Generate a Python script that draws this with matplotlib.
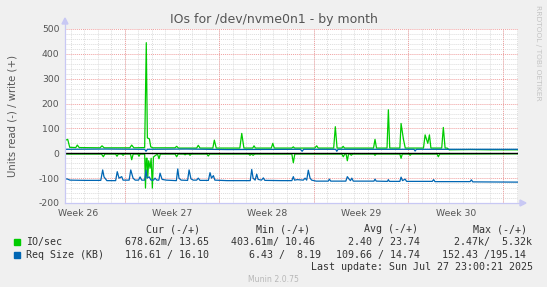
import numpy as np
import matplotlib
matplotlib.use("Agg")
import matplotlib.pyplot as plt
from matplotlib.patches import Rectangle, Polygon

W, H = 547, 287

# (day from left edge of graph, value)
io_write_pts = [(0.0, 52), (0.2, 56), (0.35, 24), (0.8, 23), (0.91, 33), (1.05, 23),
                (2.6, 22), (2.74, 30), (2.9, 22), (4.8, 22), (4.94, 33), (5.1, 22),
                (5.9, 23), (6.02, 445), (6.1, 62), (6.25, 58), (6.35, 26), (6.5, 22),
                (8.15, 22), (8.27, 28), (8.4, 21), (9.75, 21), (9.87, 32), (10.0, 21),
                (10.95, 21), (11.06, 53), (11.2, 21), (12.95, 21), (13.09, 80), (13.25, 21),
                (13.9, 21), (14.0, 30), (14.1, 21), (15.28, 21), (15.39, 40), (15.5, 21),
                (16.8, 21), (16.91, 26), (17.0, 21), (18.5, 21), (18.64, 30), (18.75, 21),
                (19.9, 21), (20.02, 107), (20.15, 21), (20.5, 21), (20.6, 28), (20.7, 21),
                (22.85, 21), (22.96, 56), (23.07, 21), (23.85, 21), (23.95, 175), (24.05, 21),
                (24.8, 21), (24.89, 120), (25.06, 58), (25.2, 21), (26.55, 21), (26.67, 74),
                (26.87, 40), (26.99, 74), (27.1, 21), (27.9, 21), (28.02, 104), (28.15, 21),
                (28.3, 21), (28.45, 14), (30.0, 15), (31.5, 14), (33.55, 14)]

io_read_pts = [(0.0, -3), (2.7, -3), (2.84, -14), (2.95, -3), (3.75, -3), (3.85, -12), (3.95, -3),
               (4.2, -3), (4.3, -8), (4.4, -3), (4.85, -3), (4.94, -26), (5.05, -3),
               (5.4, -3), (5.48, -12), (5.56, -3), (5.9, -3), (5.96, -140), (6.02, -20),
               (6.08, -20), (6.13, -95), (6.2, -30), (6.3, -60), (6.38, -20), (6.47, -140),
               (6.55, -15), (6.67, -10), (6.85, -3), (6.96, -22), (7.06, -3), (8.15, -3),
               (8.27, -14), (8.38, -3), (8.8, -3), (8.89, -6), (9.0, -3), (9.18, -3),
               (9.26, -8), (9.35, -3), (10.5, -3), (10.61, -11), (10.72, -3), (13.6, -3),
               (13.7, -8), (13.8, -3), (13.93, -8), (14.05, -3), (16.8, -3), (16.91, -38),
               (17.02, -3), (20.5, -3), (20.61, -14), (20.72, -3), (20.82, -3), (20.91, -30),
               (21.0, -3), (21.12, -3), (21.2, -8), (21.3, -3), (22.88, -3), (22.96, -8),
               (23.05, -3), (24.8, -3), (24.89, -20), (24.98, -3), (25.48, -3), (25.56, -8),
               (25.65, -3), (27.55, -3), (27.65, -14), (27.75, -3), (33.55, -2)]

req_write_pts = [(0.0, 16), (3.0, 17), (5.9, 16), (6.0, 8), (6.1, 16), (9.0, 17), (12.0, 15),
                 (17.45, 16), (17.56, 8), (17.67, 16), (20.05, 16), (20.13, 8), (20.22, 16),
                 (25.85, 16), (25.93, 9), (26.02, 16), (33.55, 16)]

req_read_pts = [(0.0, -104), (0.15, -103), (0.37, -108), (1.5, -109), (2.65, -109), (2.79, -67),
                (2.89, -95), (2.96, -100), (3.1, -110), (3.75, -110), (3.87, -74), (4.0, -100),
                (4.2, -94), (4.3, -108), (4.75, -108), (4.87, -67), (5.04, -100), (5.2, -108),
                (5.45, -108), (5.56, -95), (5.68, -108), (5.9, -108), (6.0, -67), (6.07, -100),
                (6.24, -95), (6.37, -108), (6.55, -108), (6.67, -100), (6.8, -108), (6.95, -108),
                (7.04, -80), (7.19, -105), (7.5, -108), (8.25, -110), (8.35, -63), (8.44, -100),
                (8.6, -108), (9.08, -109), (9.19, -67), (9.33, -103), (9.5, -108), (9.75, -108),
                (9.87, -100), (10.0, -109), (10.62, -109), (10.74, -78), (10.85, -100),
                (10.99, -90), (11.1, -108), (12.0, -110), (13.72, -110), (13.83, -65),
                (13.93, -100), (14.08, -108), (14.2, -84), (14.3, -105), (14.55, -108),
                (14.69, -99), (14.8, -109), (16.0, -110), (16.8, -110), (16.91, -94),
                (17.0, -108), (17.2, -106), (17.65, -108), (17.78, -100), (17.9, -108),
                (18.02, -68), (18.15, -100), (18.27, -108), (18.6, -112), (19.5, -112),
                (19.58, -104), (19.68, -112), (20.8, -112), (20.91, -94), (21.04, -104),
                (21.14, -110), (21.24, -100), (21.35, -112), (22.88, -112), (22.96, -104),
                (23.05, -112), (23.88, -113), (23.95, -106), (24.02, -113), (24.8, -113),
                (24.89, -96), (25.0, -110), (25.19, -104), (25.3, -113), (27.2, -113),
                (27.3, -106), (27.4, -114), (30.0, -114), (30.1, -107), (30.2, -115),
                (33.55, -116)]

week_labels = ["Week 26", "Week 27", "Week 28", "Week 29", "Week 30"]
week_starts = [4.44, 11.44, 18.44, 25.44, 32.44]
x_end = 33.55
y_ticks = [-200, -100, 0, 100, 200, 300, 400, 500]

legend_head = ["Cur (-/+)", "Min (-/+)", "Avg (-/+)", "Max (-/+)"]
io_row = ["678.62m/ 13.65", "403.61m/ 10.46", "2.40 / 23.74", "2.47k/  5.32k"]
req_row = ["116.61 / 16.10", "6.43 /  8.19", "109.66 / 14.74", "152.43 /195.14"]

GREEN = "#00CC00"
BLUE = "#0066B3"
TXT = "#555555"

fig = plt.figure(figsize=(W / 100, H / 100), dpi=100, facecolor="#F0F0F0")
L, R, T, B = 65, 518, 29, 203
ax = fig.add_axes([L / W, 1 - B / H, (R - L) / W, (B - T) / H], facecolor="white")
ax.set_xlim(0, x_end)
ax.set_ylim(-200, 500)
for s in ax.spines.values():
    s.set_visible(False)

# grid
dot = (0, (1, 1))
for d in np.arange(week_starts[0] - 4, x_end, 1.0):
    ax.axvline(d, color="#DDDDDD", lw=0.7, ls=dot, zorder=0)
for d in week_starts:
    ax.axvline(d, color="#F0A0A0", lw=0.7, ls=dot, zorder=0.5)
for v in range(-200, 501, 20):
    if v % 100:
        ax.axhline(v, color="#DDDDDD", lw=0.7, ls=dot, zorder=0)
for v in y_ticks:
    ax.axhline(v, color="#F0A0A0", lw=0.7, ls=dot, zorder=0.5)

# data
for pts, col in [(io_read_pts, GREEN), (io_write_pts, GREEN),
                 (req_read_pts, BLUE), (req_write_pts, BLUE)]:
    t, v = zip(*pts)
    ax.plot(t, v, color=col, lw=0.9, zorder=2)
ax.axhline(0, color="black", lw=1.0, zorder=3)

ax.set_yticks(y_ticks)
ax.set_yticklabels([str(v) for v in y_ticks], fontsize=6.7, color=TXT)
ax.set_xticks([d - 3.5 for d in week_starts])
ax.set_xticklabels(week_labels, fontsize=6.7, color=TXT)
ax.tick_params(axis="y", length=0, pad=4)
ax.tick_params(axis="x", length=0, pad=4)
ax.set_ylabel("Units read (-) / write (+)", fontsize=7.3, color=TXT, labelpad=15)

# axis lines with arrows
ac = "#C8C8F4"
fig.add_artist(plt.Line2D([L / W, L / W], [1 - B / H, 1 - 22 / H], color=ac, lw=0.9))
fig.add_artist(plt.Line2D([L / W, 522 / W], [1 - B / H, 1 - B / H], color=ac, lw=0.9))
fig.add_artist(Polygon([[(L - 3) / W, 1 - 24 / H], [(L + 3) / W, 1 - 24 / H], [L / W, 1 - 18 / H]],
                       closed=True, color=ac))
fig.add_artist(Polygon([[520 / W, 1 - (B - 3) / H], [520 / W, 1 - (B + 3) / H], [526 / W, 1 - B / H]],
                       closed=True, color=ac))

fig.text(273.5 / W, 1 - 19 / H, "IOs for /dev/nvme0n1 - by month", ha="center", va="center",
         fontsize=9, color=TXT)
fig.text(538 / W, 1 - 5 / H, "RRDTOOL / TOBI OETIKER", rotation=270, ha="center", va="top",
         fontsize=5.4, color="#C4C4C4")

# legend
mono = dict(family="DejaVu Sans Mono", fontsize=7.2, color="#333333", va="center")
for x0, s in zip([146.5, 255.7, 363.9, 472.8], legend_head):
    fig.text(x0 / W, 1 - 229 / H, s, ha="left", **mono)
io_x = [124.9, 231.0, 348.2, 454.3]
req_x = [124.9, 249.0, 336.2, 442.4]
fig.add_artist(Rectangle((14 / W, 1 - 245 / H), 6 / W, 6 / H, color=GREEN))
fig.add_artist(Rectangle((14 / W, 1 - 258 / H), 6 / W, 6 / H, color=BLUE))
fig.text(26.2 / W, 1 - 242 / H, "IO/sec", ha="left", **mono)
fig.text(26.2 / W, 1 - 255 / H, "Req Size (KB)", ha="left", **mono)
for x0, s in zip(io_x, io_row):
    fig.text(x0 / W, 1 - 242 / H, s, ha="left", **mono)
for x0, s in zip(req_x, req_row):
    fig.text(x0 / W, 1 - 255 / H, s, ha="left", **mono)
fig.text(532.8 / W, 1 - 267 / H, "Last update: Sun Jul 27 23:00:21 2025", ha="right", **mono)
fig.text(273 / W, 1 - 280 / H, "Munin 2.0.75", ha="center", va="center", fontsize=5.6,
         color="#B8B8B8")

fig.savefig("out.png", dpi=100, facecolor=fig.get_facecolor())
